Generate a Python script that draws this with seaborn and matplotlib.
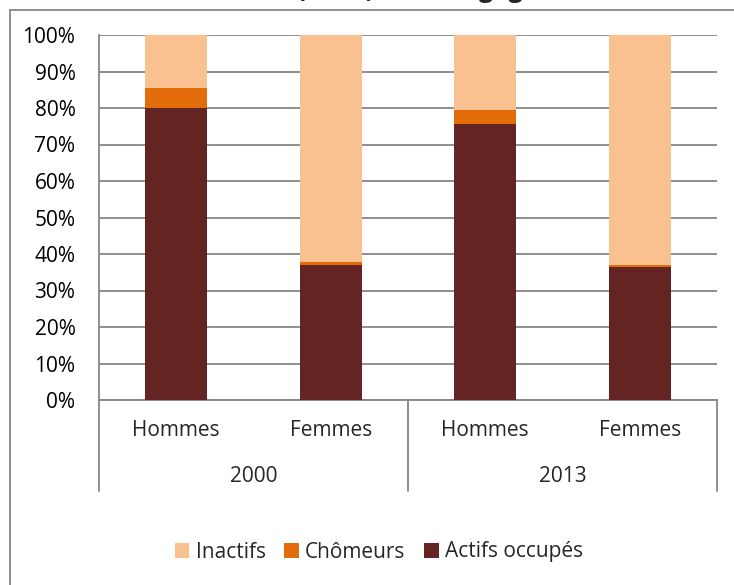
import matplotlib
matplotlib.use("Agg")
import matplotlib.pyplot as plt
from matplotlib.patches import Rectangle, Patch
import seaborn as sns
import pandas as pd

# ---- data ----
years = ["2000", "2000", "2013", "2013"]
sexes = ["Hommes", "Femmes", "Hommes", "Femmes"]
actifs_occupes = [80.1, 37.1, 75.5, 36.4]
chomeurs = [5.4, 0.6, 4.0, 0.6]
inactifs = [100 - a - c for a, c in zip(actifs_occupes, chomeurs)]
series_names = ["Inactifs", "Chômeurs", "Actifs occupés"]
colors = {"Inactifs": "#F9C090", "Chômeurs": "#E36C0A", "Actifs occupés": "#632423"}
yticks = list(range(0, 101, 10))
title = "Statuts (en %) en Bourgogne"

keys = [f"{y} {s}" for y, s in zip(years, sexes)]
df = pd.DataFrame({
    "key": keys,
    "top_inactifs": [a + c + i for a, c, i in zip(actifs_occupes, chomeurs, inactifs)],
    "top_chomeurs": [a + c for a, c in zip(actifs_occupes, chomeurs)],
    "top_actifs": actifs_occupes,
})

sns.set_style("white")
plt.rcParams["font.family"] = ["Open Sans", "DejaVu Sans"]
FS = 15
GRAY = "#868686"

W, H = 734, 585
fig = plt.figure(figsize=(W / 100, H / 100), dpi=100)
L, R, T, B = 99, 717, 35, 400
ax = fig.add_axes([L / W, 1 - B / H, (R - L) / W, (B - T) / H])

for col, name in zip(["top_inactifs", "top_chomeurs", "top_actifs"], series_names):
    sns.barplot(data=df, x="key", y=col, order=keys, color=colors[name],
                width=0.4, ax=ax, saturation=1, errorbar=None, zorder=3,
                linewidth=0, edgecolor="none")

ax.set_xlabel("")
ax.set_ylabel("")
ax.set_ylim(0, 100)
ax.set_xlim(-0.5, len(keys) - 0.5)
ax.set_yticks(yticks)
ax.set_yticklabels([f"{v}%" for v in yticks], fontsize=FS, color="black")
ax.tick_params(axis="y", length=0, pad=17)
ax.set_xticks([])
ax.grid(axis="y", color=GRAY, linewidth=1.3, zorder=0)
ax.set_axisbelow(True)
for s in ["top", "right"]:
    ax.spines[s].set_visible(False)
for s in ["left", "bottom"]:
    ax.spines[s].set_color(GRAY)
    ax.spines[s].set_linewidth(1.3)

# multi-level category axis
trans = ax.get_xaxis_transform()
depth = 91 / (B - T)
for xpos in [-0.5, 1.5, 3.5]:
    ax.plot([xpos, xpos], [0, -depth], transform=trans, color=GRAY,
            linewidth=1.3, clip_on=False)
for i, s in enumerate(sexes):
    ax.text(i, -31 / (B - T), s, transform=trans, ha="center", va="center",
            fontsize=FS)
for j, y in enumerate(["2000", "2013"]):
    ax.text(2 * j + 0.5, -77 / (B - T), y, transform=trans, ha="center",
            va="center", fontsize=FS)

# chart frame (clipped on right/bottom like the reference)
fig.patches.append(Rectangle((10 / W, -0.1), 1.2, 1.1 - 10 / H,
                             transform=fig.transFigure, fill=False,
                             edgecolor=GRAY, linewidth=1.3))

# title (mostly cut off at top, as in the reference)
fig.text(377 / W, 1 + 3 / H, title, ha="center", va="baseline",
         fontsize=18, fontweight="bold")

handles = [Patch(facecolor=colors[n], edgecolor="none", label=n) for n in series_names]
fig.legend(handles=handles, loc="center", bbox_to_anchor=(379 / W, 1 - 552 / H),
           ncol=3, frameon=False, fontsize=FS, handlelength=0.7,
           handleheight=0.7, handletextpad=0.3, columnspacing=0.9)

fig.savefig("out.png", dpi=100)
